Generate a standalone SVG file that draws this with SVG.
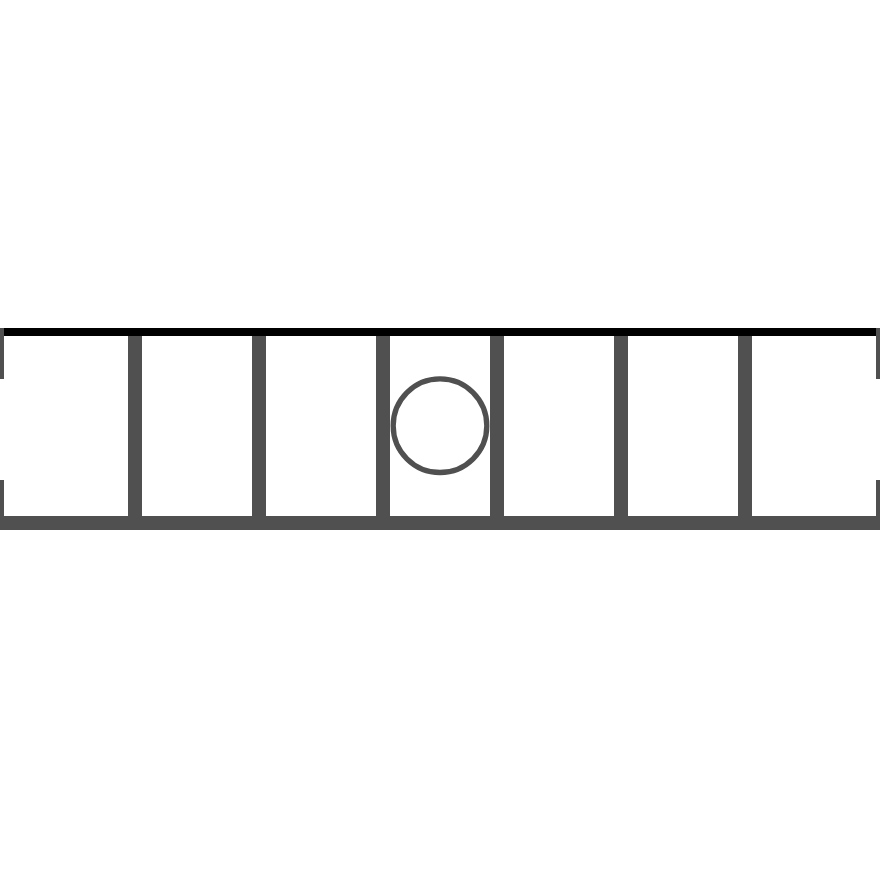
<svg xmlns="http://www.w3.org/2000/svg" width="880" height="880" viewBox="0 0 880 880">
  <style>
    .wall { fill: #505050; }
    .top { fill: #000000; }
  </style>
  <rect width="880" height="880" fill="#ffffff"/>
  <g id="frame">
    <rect class="wall" x="0" y="516" width="880" height="14"/>
    <rect class="wall" x="0" y="328" width="4" height="51"/>
    <rect class="wall" x="0" y="480" width="4" height="50"/>
    <rect class="wall" x="876" y="328" width="4" height="51"/>
    <rect class="wall" x="876" y="480" width="4" height="50"/>
  </g>
  <g id="posts">
    <rect class="wall" x="128" y="336" width="14" height="180"/>
    <rect class="wall" x="252" y="336" width="14" height="180"/>
    <rect class="wall" x="376" y="336" width="14" height="180"/>
    <rect class="wall" x="490" y="336" width="14" height="180"/>
    <rect class="wall" x="614" y="336" width="14" height="180"/>
    <rect class="wall" x="738" y="336" width="14" height="180"/>
  </g>
  <g id="top-line">
    <rect class="top" x="4" y="328" width="872" height="8"/>
  </g>
  <g id="circle">
    <circle cx="440" cy="425.7" r="46.8" fill="none" stroke="#505050" stroke-width="5.3"/>
  </g>
</svg>
